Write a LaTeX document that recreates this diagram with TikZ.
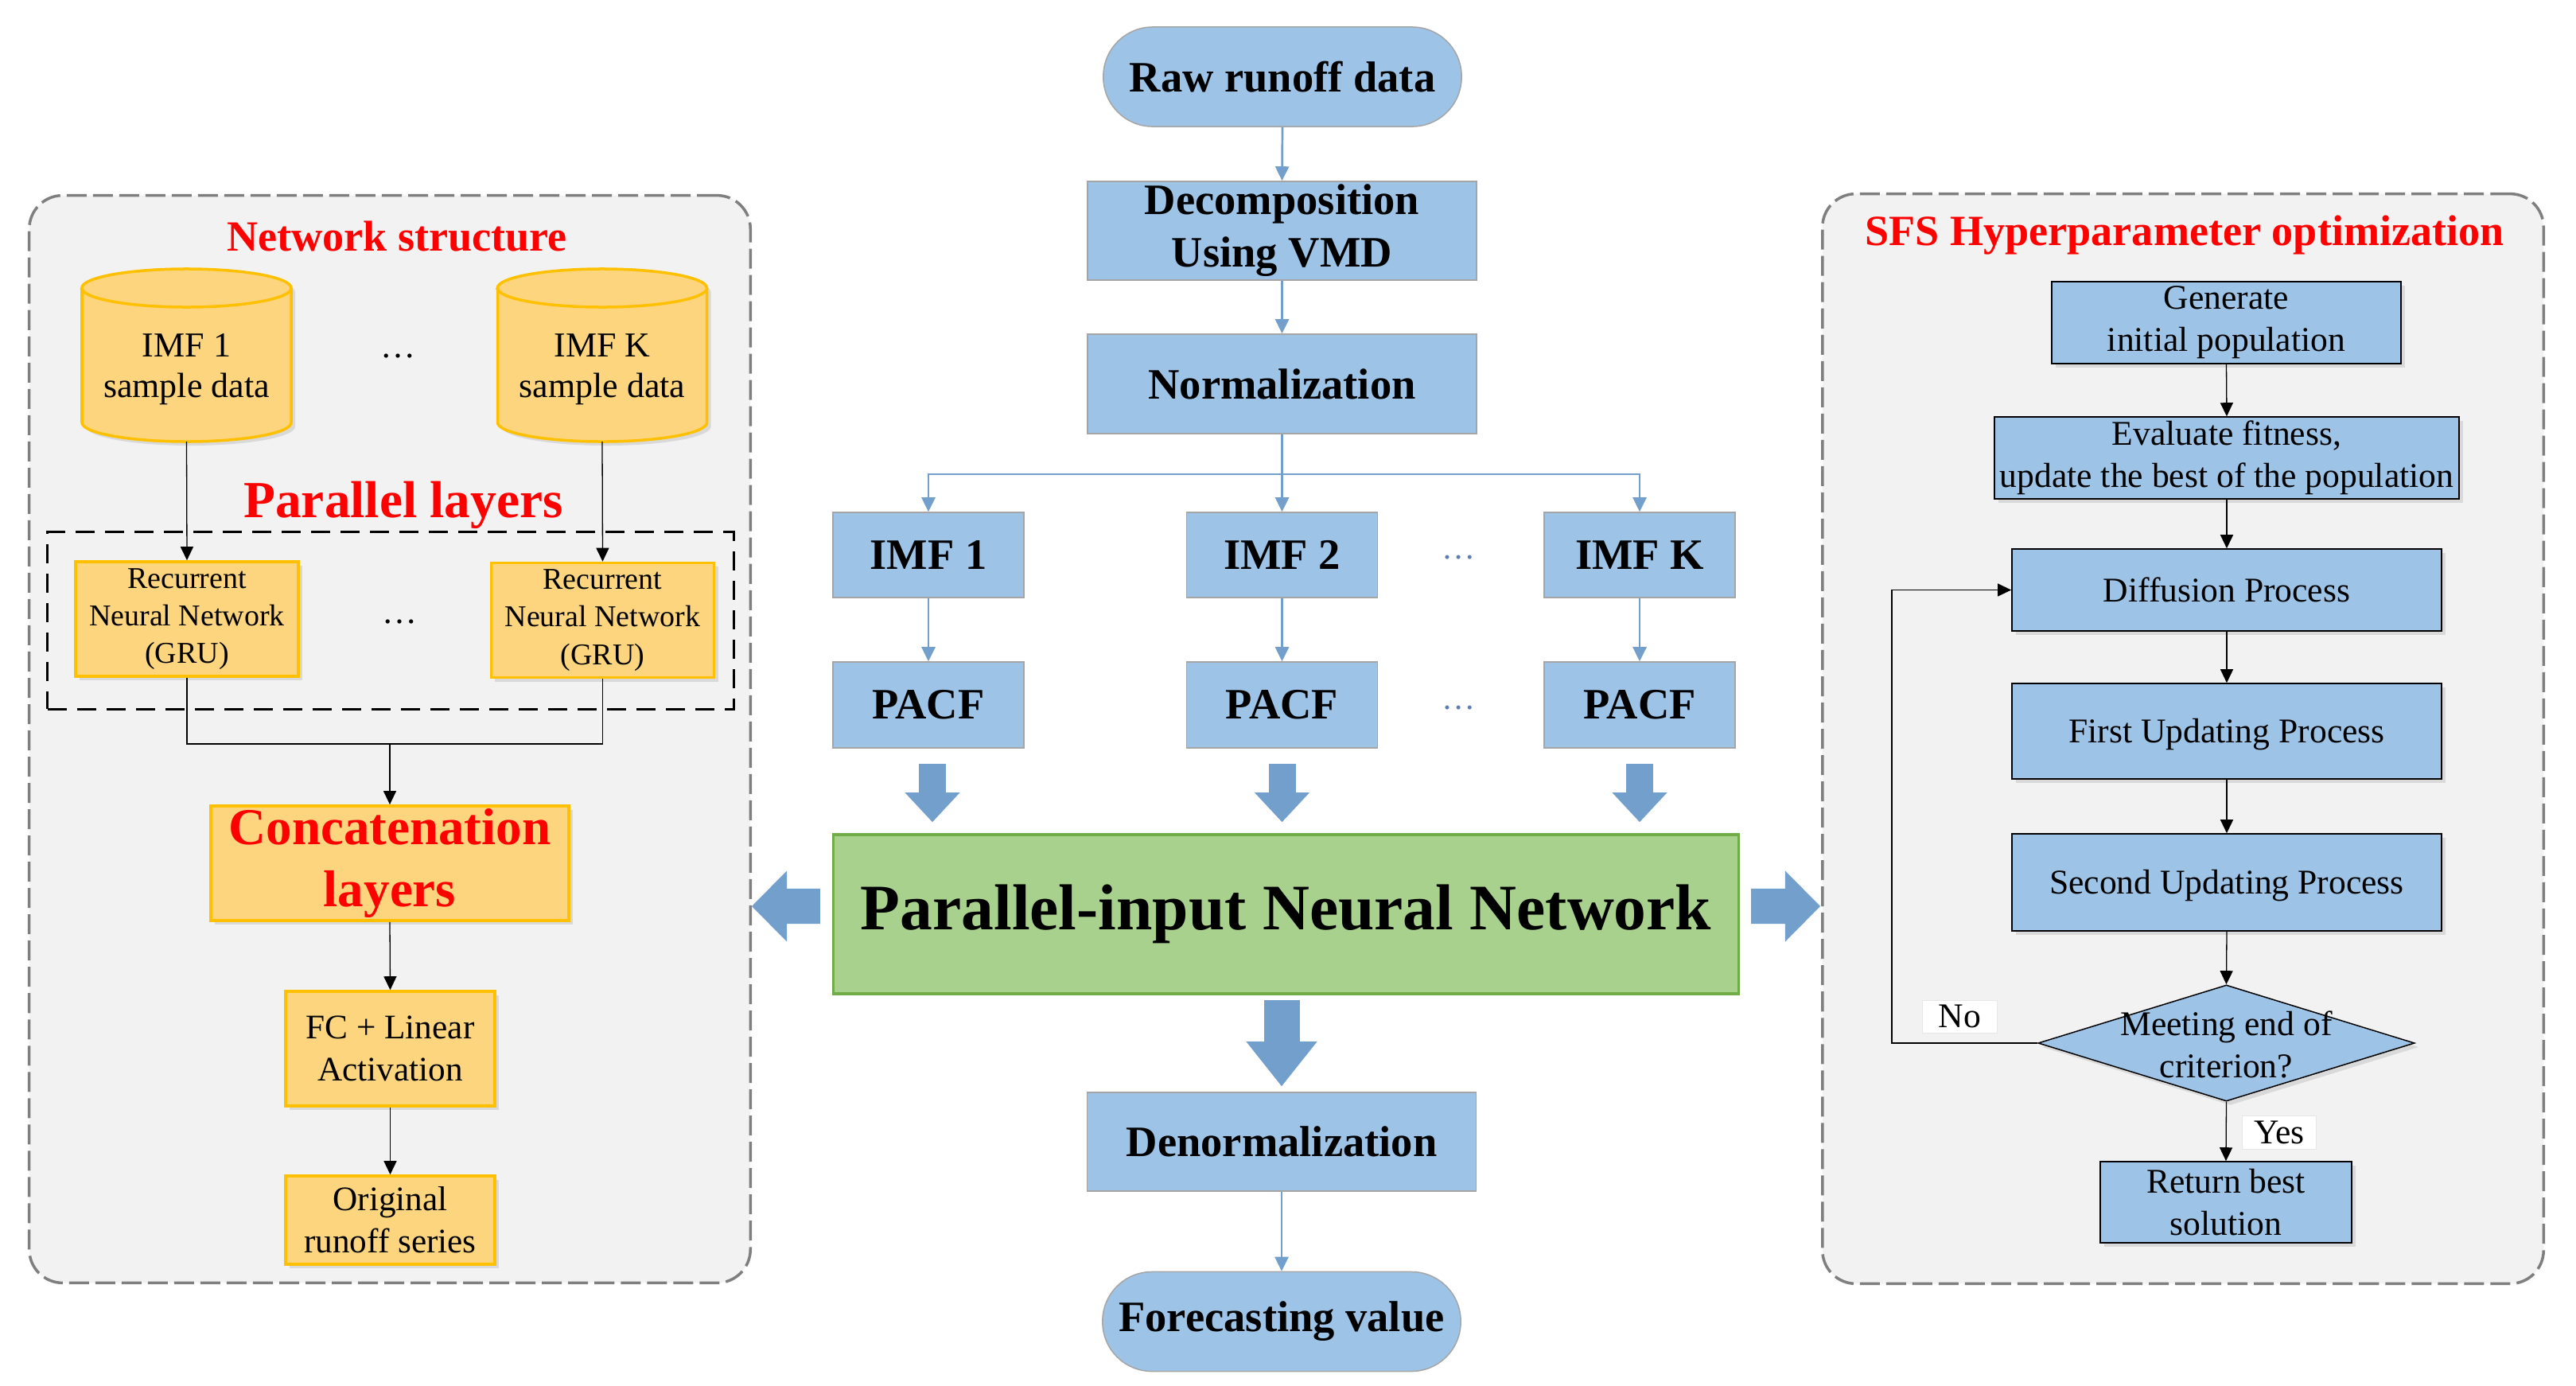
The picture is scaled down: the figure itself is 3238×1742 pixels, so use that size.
\documentclass[tikz,border=0pt]{standalone}
\usepackage{fontspec}
\setmainfont{Liberation Serif}
\usetikzlibrary{arrows.meta,shapes.geometric,shadows}
\newcommand\fsz[2]{\fontsize{#1}{#2}\selectfont}
\definecolor{bfill}{HTML}{9DC3E6}
\definecolor{cgray}{HTML}{A5A5A5}
\definecolor{bline}{HTML}{739FCC}
\definecolor{yfill}{HTML}{FCD57E}
\definecolor{ygold}{HTML}{FFC000}
\definecolor{gfill}{HTML}{A9D18E}
\definecolor{gdraw}{HTML}{70AD47}
\definecolor{pfill}{HTML}{F2F2F2}
\definecolor{pgray}{HTML}{7F7F7F}
\definecolor{shadowc}{HTML}{D9D9D9}
\definecolor{dotc}{HTML}{5B7DB1}
\definecolor{lblgray}{HTML}{E6E6E6}
\tikzset{
  panel/.style={draw=pgray, fill=pfill, line width=0.035cm, dash pattern=on 0.25cm off 0.08cm, rounded corners=0.42cm, inner sep=0pt},
  shadowed/.style={general shadow={fill=shadowc, shadow xshift=0.05cm, shadow yshift=-0.05cm}},
  ybox/.style={draw=ygold, fill=yfill, line width=0.035cm, shadowed, align=center, inner sep=1pt},
  cbox/.style={draw=cgray, fill=bfill, line width=0.015cm, align=center, inner sep=1pt, font=\bfseries\fsz{15.5pt}{18.8pt}},
  rbox/.style={draw=black, fill=bfill, line width=0.015cm, shadowed, align=center, inner sep=1pt, font=\fsz{12.4pt}{15.1pt}},
  lowertext/.style={execute at begin node={\rule{0pt}{#1}}},
  title/.style={text=red, font=\bfseries\fsz{15.4pt}{18pt}, inner sep=0pt},
  blueline/.style={draw=bline, line width=0.027cm},
  barrow/.style={blueline, -{Triangle[length=0.18cm,width=0.17cm]}},
  kline/.style={draw=black, line width=0.013cm},
  karrow/.style={kline, -{Triangle[length=0.17cm,width=0.16cm]}},
  blockarrow/.style={draw=bline, line width=0.34cm, -{Triangle[length=0.37cm,width=0.69cm,line width=0pt]}},
  sidearrow/.style={draw=bline, line width=0.44cm, -{Triangle[length=0.44cm,width=0.89cm,line width=0pt]}},
  downarrow/.style={draw=bline, line width=0.45cm, -{Triangle[length=0.56cm,width=0.89cm,line width=0pt]}},
  cylshape/.style={draw=ygold, fill=yfill, line width=0.035cm},
  lbl/.style={draw=lblgray, fill=white, line width=0.01cm, inner sep=0pt, font=\fsz{12.4pt}{15pt}},
}
\newcommand\cylpath[1]{(#1-131.5,362) -- (#1-131.5,531) arc[start angle=180,end angle=360,x radius=1.315cm,y radius=0.24cm] -- (#1+131.5,362) arc[start angle=0,end angle=180,x radius=1.315cm,y radius=0.24cm] -- cycle}
\begin{document}
\begin{tikzpicture}[x=0.01cm,y=-0.01cm]
\useasboundingbox (0,0) rectangle (3238,1742);
% ---------- panels
\node[panel, minimum width=9.06cm, minimum height=13.66cm] (lp) at (490,929) {};
\node[panel, minimum width=9.06cm, minimum height=13.69cm] (rp) at (2744,928.5) {};
% ---------- left panel
\node[title, anchor=base] (lt) at (499,315) {Network structure};
% cylinders
\path[fill=shadowc, xshift=0.05cm, yshift=-0.05cm] \cylpath{234.5};
\path[cylshape] \cylpath{234.5};
\draw[ygold, line width=0.035cm] (234.5-131.5,362) arc[start angle=180,end angle=360,x radius=1.315cm,y radius=0.24cm];
\coordinate (c1b) at (234.5,555);
\path[fill=shadowc, xshift=0.05cm, yshift=-0.05cm] \cylpath{757};
\path[cylshape] \cylpath{757};
\draw[ygold, line width=0.035cm] (757-131.5,362) arc[start angle=180,end angle=360,x radius=1.315cm,y radius=0.24cm];
\coordinate (ckb) at (757,555);
\node[align=center, font=\fsz{12.5pt}{14.5pt}, inner sep=0pt] (t1) at (234.5,464) {IMF 1\\sample data};
\node[align=center, font=\fsz{12.5pt}{14.5pt}, inner sep=0pt] (tk) at (757,464) {IMF K\\sample data};
\node[font=\fsz{12.5pt}{14.5pt}, anchor=base, inner sep=0pt] (d1) at (500,449) {\ldots};
% parallel layers
\node[text=red, font=\bfseries\fsz{18.6pt}{22pt}, anchor=base, inner sep=0pt] (plt) at (507,650) {Parallel layers};
\node[draw=black, line width=0.03cm, dash pattern=on 0.24cm off 0.13cm, minimum width=8.62cm, minimum height=2.22cm, inner sep=0pt] (pl) at (491,780) {};
\node[ybox, lowertext=9.9pt, font=\fsz{10.8pt}{13.4pt}, minimum width=2.8cm, minimum height=1.44cm] (r1) at (235,778) {Recurrent\\Neural Network\\(GRU)};
\node[ybox, lowertext=9.9pt, font=\fsz{10.8pt}{13.4pt}, minimum width=2.8cm, minimum height=1.44cm] (rk) at (757.5,779.5) {Recurrent\\Neural Network\\(GRU)};
\node[font=\fsz{12.5pt}{14.5pt}, anchor=base, inner sep=0pt] (d2) at (502,783) {\ldots};
\draw[karrow] (c1b) -- (r1.north);
\draw[karrow] (ckb) -- (rk.north);
% concatenation
\node[ybox, lowertext=16.2pt, text=red, font=\bfseries\fsz{18.5pt}{22.2pt}, minimum width=4.5cm, minimum height=1.44cm] (cc) at (490,1085) {Concatenation\\layers};
\coordinate (j) at (490,935);
\draw[kline] (r1.south) |- (j);
\draw[kline] (rk.south) |- (j);
\draw[karrow] (j) -- (cc.north);
\node[ybox, font=\fsz{12.3pt}{15pt}, minimum width=2.63cm, minimum height=1.44cm] (fc) at (490.5,1318) {FC + Linear\\Activation};
\node[ybox, font=\fsz{12.3pt}{15pt}, minimum width=2.63cm, minimum height=1.11cm] (og) at (490.5,1533.5) {Original\\runoff series};
\draw[karrow] (cc.south) -- (fc.north);
\draw[karrow] (fc.south) -- (og.north);
% ---------- center column
\node[cbox, rounded corners=0.62cm, minimum width=4.5cm, minimum height=1.25cm] (raw) at (1612,96.5) {Raw runoff data};
\node[cbox, lowertext=13.2pt, minimum width=4.89cm, minimum height=1.24cm] (dec) at (1611.5,290) {Decomposition\\Using VMD};
\node[cbox, minimum width=4.89cm, minimum height=1.25cm] (nrm) at (1611.5,482.5) {Normalization};
\draw[barrow] (raw.south) -- (dec.north);
\draw[barrow] (dec.south) -- (nrm.north);
\node[cbox, minimum width=2.4cm, minimum height=1.07cm] (i1) at (1167,697.5) {IMF 1};
\node[cbox, minimum width=2.4cm, minimum height=1.07cm] (i2) at (1611.5,697.5) {IMF 2};
\node[cbox, minimum width=2.4cm, minimum height=1.07cm] (ik) at (2061,697.5) {IMF K};
\node[cbox, minimum width=2.4cm, minimum height=1.08cm] (p1) at (1167,886) {PACF};
\node[cbox, minimum width=2.4cm, minimum height=1.08cm] (p2) at (1611.5,886) {PACF};
\node[cbox, minimum width=2.4cm, minimum height=1.08cm] (pk) at (2061,886) {PACF};
\node[text=dotc, font=\fsz{12pt}{14pt}, anchor=base, inner sep=0pt] (d3) at (1834,702) {\ldots};
\node[text=dotc, font=\fsz{12pt}{14pt}, anchor=base, inner sep=0pt] (d4) at (1834,891) {\ldots};
\coordinate (split) at (1611.5,596);
\draw[blueline] (nrm.south) -- (split);
\draw[barrow] (split) -| (i1.north);
\draw[barrow] (split) -- (i2.north);
\draw[barrow] (split) -| (ik.north);
\draw[barrow] (i1.south) -- (p1.north);
\draw[barrow] (i2.south) -- (p2.north);
\draw[barrow] (ik.south) -- (pk.north);
\node[draw=gdraw, fill=gfill, line width=0.035cm, minimum width=11.37cm, minimum height=2.0cm, inner sep=1pt, font=\bfseries\fsz{23.2pt}{28pt}] (pnn) at (1616.5,1149) {Parallel-input Neural Network};
\coordinate (a1) at (p1.south |- pnn.north);
\coordinate (a2) at (p2.south |- pnn.north);
\coordinate (ak) at (pk.south |- pnn.north);
\draw[blockarrow] ([xshift=0.05cm,yshift=-0.19cm]p1.south) -- ([xshift=0.05cm,yshift=0.14cm]a1);
\draw[blockarrow] ([yshift=-0.19cm]p2.south) -- ([yshift=0.14cm]a2);
\draw[blockarrow] ([yshift=-0.19cm]pk.south) -- ([yshift=0.14cm]ak);
\coordinate (la) at (945,1139);
\coordinate (ra) at (2288,1139);
\draw[sidearrow] ([xshift=-0.15cm,yshift=0.1cm]pnn.west) -- (la);
\draw[sidearrow] ([xshift=0.14cm,yshift=0.1cm]pnn.east) -- (ra);
\node[cbox, minimum width=4.89cm, minimum height=1.24cm] (den) at (1611,1435) {Denormalization};
\node[cbox, rounded corners=0.62cm, minimum width=4.5cm, minimum height=1.25cm] (fv) at (1611,1661) {Forecasting value};
\draw[downarrow] ([yshift=-0.06cm]pnn.south -| den.north) -- ([yshift=0.07cm]den.north);
\draw[barrow] (den.south) -- (fv.north);
% ---------- right panel
\node[title, anchor=base] (rt) at (2746,308) {SFS Hyperparameter optimization};
\node[rbox, lowertext=11pt, minimum width=4.39cm, minimum height=1.03cm] (gen) at (2798.5,405.5) {Generate\\initial population};
\node[rbox, lowertext=11pt, minimum width=5.84cm, minimum height=1.03cm] (ev) at (2799,575.5) {Evaluate fitness,\\update the best of the population};
\node[rbox, minimum width=5.40cm, minimum height=1.03cm] (dif) at (2799,741.5) {Diffusion Process};
\node[rbox, lowertext=11pt, minimum width=5.40cm, minimum height=1.20cm] (fir) at (2799,919) {First Updating Process};
\node[rbox, lowertext=11pt, minimum width=5.40cm, minimum height=1.22cm] (sec) at (2799,1109) {Second Updating Process};
\node[diamond, draw=black, fill=bfill, line width=0.015cm, shadowed, inner sep=0pt, minimum width=4.73cm, minimum height=1.46cm] (dia) at (2798.5,1311) {};
\node[align=center, font=\fsz{12.4pt}{15.1pt}, inner sep=0pt] (diat) at (2798.5,1313) {Meeting end of\\criterion?};
\node[rbox, minimum width=3.16cm, minimum height=1.02cm] (ret) at (2798,1511) {Return best\\solution};
\draw[karrow] (gen.south) -- (ev.north);
\draw[karrow] (ev.south) -- (dif.north);
\draw[karrow] (dif.south) -- (fir.north);
\draw[karrow] (fir.south) -- (sec.north);
\draw[karrow] (sec.south) -- (dia.north);
\draw[karrow] (dia.south) -- (ret.north);
\coordinate (loopc) at (2378,1311);
\draw[karrow] (dia.west) -- (loopc) |- (dif.west);
\node[lbl, minimum width=0.93cm, minimum height=0.41cm] (no) at (2463.5,1277.5) {No};
\node[lbl, minimum width=0.92cm, minimum height=0.42cm] (yes) at (2865,1423) {Yes};
\end{tikzpicture}
\end{document}
